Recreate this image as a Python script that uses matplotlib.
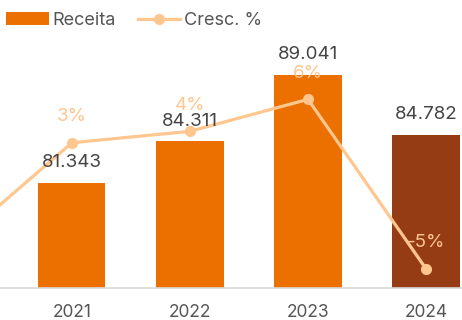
import matplotlib
matplotlib.use("Agg")
import matplotlib.pyplot as plt
from matplotlib.patches import Patch
from matplotlib.lines import Line2D

plt.rcParams['font.family'] = ['Inter', 'DejaVu Sans']

# Revenue per year (thousands) and year-over-year growth (%)
years = ["2021", "2022", "2023", "2024"]
receita = [81.343, 84.311, 89.041, 84.782]
growth_years = ["2020", "2021", "2022", "2023", "2024"]
cresc = [-3.3, 2.95, 3.65, 5.61, -4.78]

bar_colors = ["#EB7000", "#EB7000", "#EB7000", "#953C15"]
line_color = "#FFC68F"
value_color = "#444444"
tick_color = "#555555"

fig = plt.figure(figsize=(4.62, 3.2), dpi=100)
ax = fig.add_axes([0.0, 0.101, 1.0, 0.774])
ax2 = ax.twinx()

x = list(range(len(years)))
ax.bar(x, receita, width=0.568, color=bar_colors, zorder=2)
ax.set_ylim(73.92, 91.52)
ax.set_xlim(-0.610, 3.305)

gx = [i - 1 for i in range(len(growth_years))]
ax2.plot(gx, cresc, color=line_color, lw=2.3, marker="o", ms=7, zorder=3,
         solid_capstyle="round")
ax2.set_ylim(-5.94, 9.25)
ax2.set_xlim(ax.get_xlim())
for xi, v in zip(gx, cresc):
    if xi < 0:
        continue
    ax2.annotate(f"{v:.0f}%", (xi, v), xytext=(0, 12.5), textcoords="offset points",
                 ha="center", va="bottom", fontsize=13.5, color=line_color, zorder=4)

# revenue labels sit above the growth line
for xi, v in zip(x, receita):
    ax2.annotate(f"{v:.3f}", (xi, v), xycoords=ax.transData, xytext=(0, 8.5),
                 textcoords="offset points", ha="center", va="bottom",
                 fontsize=13.5, color=value_color, zorder=5)

ax.set_xticks(x)
ax.set_xticklabels(years)
ax.tick_params(axis="x", length=0, pad=11.5, labelsize=12.5, labelcolor=tick_color)
ax.set_yticks([])
ax2.set_yticks([])
for a in (ax, ax2):
    for s in ("top", "right", "left", "bottom"):
        a.spines[s].set_visible(False)
    a.patch.set_visible(False)
ax.spines["bottom"].set_visible(True)
ax.spines["bottom"].set_color("#D9D9D9")
ax.spines["bottom"].set_linewidth(1.2)

handles = [
    Patch(facecolor="#EB7000", edgecolor="none"),
    Line2D([0], [0], color=line_color, lw=2.3, marker="o", ms=7),
]
fig.legend(handles, ["Receita", "Cresc. %"], loc="center left",
           bbox_to_anchor=(0.014, 1 - 20.5 / 320), ncol=2, frameon=False,
           fontsize=13, borderpad=0, borderaxespad=0, handlelength=2.35,
           handletextpad=0.2, columnspacing=1.2, labelcolor="#555555")

fig.savefig("out.png", dpi=100)
